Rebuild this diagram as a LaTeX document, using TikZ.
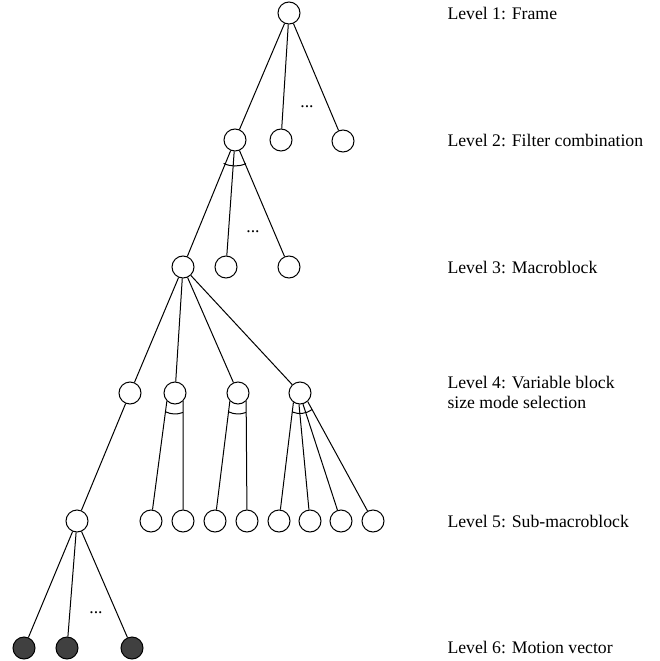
\documentclass[tikz,border=0pt]{standalone}
\usepackage{fontspec}
\setmainfont{Liberation Serif}
\usetikzlibrary{positioning}

\begin{document}
\begin{tikzpicture}[x=1pt,y=-1pt,line width=1pt,
  blk/.style={circle,draw=black,fill=white,minimum size=22pt,inner sep=0pt},
  mv/.style={circle,draw=black,fill=black!75,minimum size=22pt,inner sep=0pt},
  lvl/.style={font=\fontsize{17.7}{20}\selectfont,text=black,anchor=west,inner sep=0pt,align=left},
  gap/.style={font=\fontsize{17.7}{20}\selectfont,text=black,inner sep=0pt}]
\useasboundingbox (0,0) rectangle (660,661);

% level 1
\node[blk] (fr) at (289,13) {};
% level 2
\node[blk] (fc1) at (235,140) {};
\node[blk] (fc2) at (281,140) {};
\node[blk] (fc3) at (343,141) {};
% level 3
\node[blk] (mb1) at (183,267) {};
\node[blk] (mb2) at (226,267) {};
\node[blk] (mb3) at (289,267) {};
% level 4
\node[blk] (vb1) at (130,393) {};
\node[blk] (vb2) at (175,393) {};
\node[blk] (vb3) at (238,393) {};
\node[blk] (vb4) at (300,393) {};
% level 5
\node[blk] (sb0) at (77,521) {};
\node[blk] (sb1) at (151,521) {};
\node[blk] (sb2) at (183,521) {};
\node[blk] (sb3) at (215,521) {};
\node[blk] (sb4) at (247,521) {};
\node[blk] (sb5) at (279,521) {};
\node[blk] (sb6) at (310,521) {};
\node[blk] (sb7) at (341,521) {};
\node[blk] (sb8) at (373,521) {};
% level 6
\node[mv] (mv1) at (24,648) {};
\node[mv] (mv2) at (67,648) {};
\node[mv] (mv3) at (132,648) {};

\draw (fr) -- (fc1);
\draw (fr) -- (fc2);
\draw (fr) -- (fc3);
\draw (fc1) -- (mb1);
\draw (fc1) -- (mb2);
\draw (fc1) -- (mb3);
\draw (mb1) -- (vb1);
\draw (mb1) -- (vb2);
\draw (mb1) -- (vb3);
\draw (mb1) -- (vb4);
\draw (vb1) -- (sb0);
\draw (vb2.-135) -- (sb1);
\draw (vb2.-45) -- (sb2);
\draw (vb3.-135) -- (sb3);
\draw (vb3.-45) -- (sb4);
\draw (vb4.-125) -- (sb5);
\draw (vb4.-95) -- (sb6);
\draw (vb4.-75) -- (sb7);
\draw (vb4.-48) -- (sb8);
\draw (sb0) -- (mv1);
\draw (sb0) -- (mv2);
\draw (sb0) -- (mv3);

% arcs over the edges
\draw ([shift={(116:26)}]fc1.center) arc[start angle=116,end angle=65,radius=26];
\draw ([shift={(116:21)}]vb2.center) arc[start angle=116,end angle=68,radius=21];
\draw ([shift={(116:21)}]vb3.center) arc[start angle=116,end angle=68,radius=21];
\draw ([shift={(112:20.5)}]vb4.center) arc[start angle=112,end angle=54,radius=20.5];

\node[gap] (d1) at (307,107) {...};
\node[gap] (d2) at (253,232) {...};
\node[gap] (d3) at (96,613) {...};

\node[lvl] (l1) at (447,13) {Level 1: Frame};
\node[lvl] (l2) at (447,140) {Level 2: Filter combination};
\node[lvl] (l3) at (447,267) {Level 3: Macroblock};
\node[lvl] (l4) at (447,392) {Level 4: Variable block\\size mode selection};
\node[lvl] (l5) at (447,521) {Level 5: Sub-macroblock};
\node[lvl] (l6) at (447,647) {Level 6: Motion vector};

\end{tikzpicture}
\end{document}
